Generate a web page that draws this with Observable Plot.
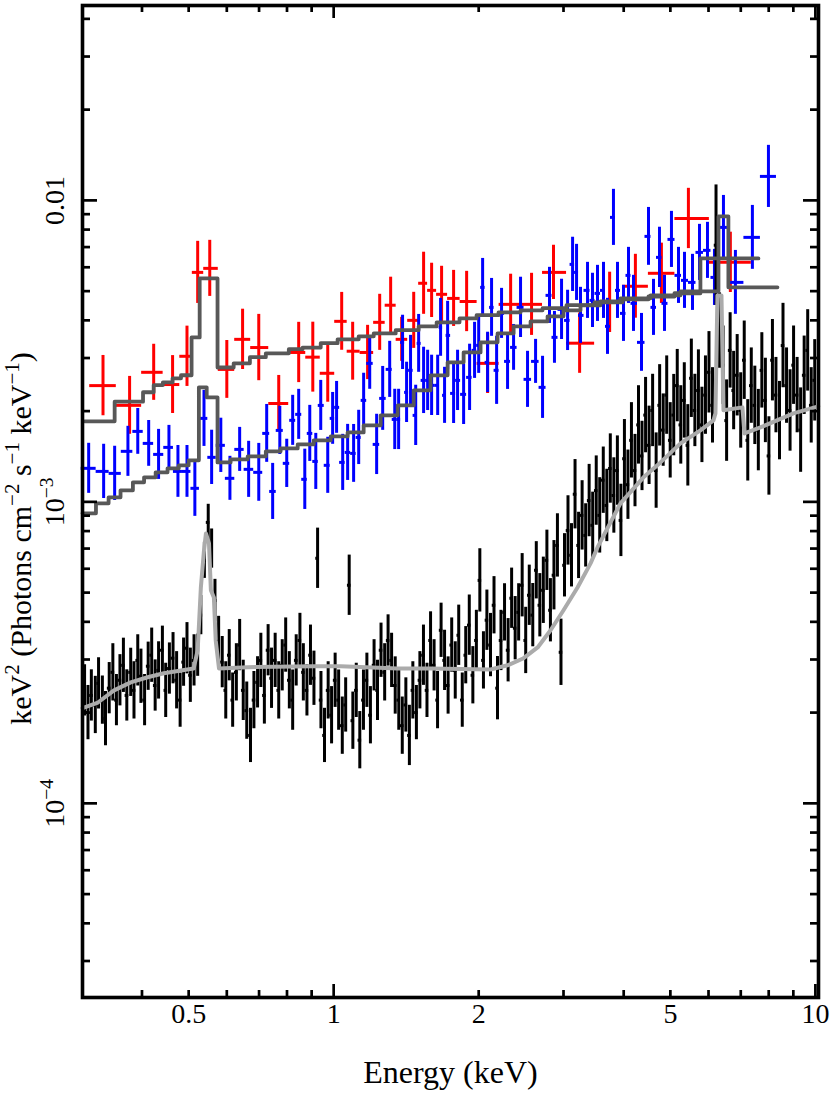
<!DOCTYPE html>
<html><head><meta charset="utf-8">
<script src="https://cdn.jsdelivr.net/npm/d3@7"></script>
<script src="https://cdn.jsdelivr.net/npm/@observablehq/plot@0.6"></script>
<style>html,body{margin:0;padding:0;background:#fff}</style>
</head><body><div id="chart"></div>
<script>
// ---- Red data (flux in 1e-3 units, errors in dex) ----
const redE = [0.332,0.377,0.423,0.463,0.496,0.522,0.553,0.600,0.647,0.699,0.769,0.846,0.905,0.972,1.039,1.095,1.176,1.246,1.313,1.384,1.466,1.537,1.597,1.675,1.774,1.888,2.087,2.33,2.575,2.86,3.24,3.74,4.23,4.79,5.45,6.66];
const redF = [2.43,2.09,2.69,2.45,3.04,5.77,5.95,2.75,3.46,3.25,2.12,3.13,3.02,2.67,3.97,3.16,3.13,3.94,4.49,3.46,4.00,5.31,5.03,4.88,4.73,4.62,2.88,4.52,4.52,5.77,3.36,4.59,5.19,5.73,8.71,6.23];
const redErr = [0.100,0.096,0.093,0.096,0.100,0.103,0.093,0.096,0.100,0.110,0.093,0.100,0.116,0.096,0.096,0.096,0.090,0.093,0.093,0.073,0.093,0.103,0.090,0.093,0.093,0.100,0.100,0.100,0.103,0.090,0.100,0.100,0.106,0.100,0.100,0.100];

// ---- Blue data (flux in 1e-3 units, errors in dex) ----
const blueE = [0.310,0.333,0.351,0.374,0.392,0.413,0.433,0.455,0.475,0.496,
0.515,0.538,0.558,0.583,0.609,0.638,0.666,0.699,0.726,0.747,
0.773,0.799,0.822,0.846,0.871,0.892,0.918,0.940,0.972,0.995,
1.014,1.044,1.069,1.100,1.127,1.154,1.188,1.228,1.264,1.307,
1.339,1.364,1.390,1.417,1.444,1.480,1.501,1.537,1.567,1.597,
1.644,1.667,1.699,1.724,1.774,1.808,1.861,1.915,1.961,2.000,
2.038,2.087,2.127,2.179,2.231,2.296,2.363,2.443,2.526,2.625,
2.714,2.806,2.873,2.972,3.059,3.133,3.193,3.254,3.365,3.446,
3.529,3.632,3.702,3.809,3.883,3.996,4.093,4.192,4.355,4.503,
4.612,4.746,4.861,5.026,5.198,5.349,5.557,5.746,5.970,6.173,
6.444,6.823,7.400,7.990];
const blueF = [1.292,1.262,1.243,1.471,1.713,1.563,1.437,1.516,1.262,1.262,
1.109,1.892,1.405,1.540,1.197,1.493,1.282,1.253,1.687,1.083,
1.726,1.342,1.864,1.951,1.188,1.687,1.362,2.089,1.322,1.892,
2.058,1.352,1.459,1.448,1.636,2.171,2.880,1.551,2.204,2.751,
1.877,1.877,3.381,2.308,2.731,1.936,3.355,2.529,2.529,2.435,
2.435,3.792,2.256,3.566,2.290,2.529,2.273,2.588,3.181,3.305,
5.146,2.902,4.417,2.731,4.219,2.924,3.254,4.417,2.549,2.924,
2.398,4.841,3.513,4.350,3.999,6.134,5.770,4.155,5.029,4.659,
4.915,5.029,3.821,8.783,5.029,4.219,5.639,4.554,3.381,7.596,
4.417,6.471,4.554,7.423,5.639,5.429,5.346,6.722,6.827,5.553,
8.136,5.346,7.539,12.01];
const blueErr = [.083,.090,.090,.083,.076,.076,.083,.073,.086,.086,
.093,.093,.090,.090,.073,.073,.093,.096,.096,.093,
.080,.080,.083,.083,.100,.093,.093,.083,.093,.086,
.086,.093,.093,.096,.090,.090,.086,.100,.106,.093,
.100,.100,.090,.100,.116,.100,.096,.110,.100,.100,
.100,.096,.093,.113,.100,.100,.100,.110,.093,.093,
.096,.100,.096,.113,.083,.093,.076,.100,.093,.073,
.103,.093,.086,.100,.100,.090,.093,.093,.093,.090,
.093,.093,.093,.093,.093,.093,.093,.093,.096,.096,
.093,.100,.093,.093,.093,.093,.093,.093,.093,.093,
.106,.106,.106,.103];

// ---- Black data (flux in 1e-4 units, errors in dex) ----
const blackE = [0.304,0.309,0.314,0.320,0.325,0.331,0.336,0.342,0.348,0.354,
0.360,0.366,0.372,0.379,0.385,0.392,0.398,0.405,0.412,0.419,
0.426,0.433,0.441,0.448,0.456,0.464,0.472,0.480,0.488,0.496,
0.504,0.513,0.522,0.530,0.539,0.549,0.558,0.567,0.577,0.587,
0.597,0.607,0.617,0.628,0.638,0.649,0.660,0.672,0.683,0.695,
0.706,0.718,0.731,0.743,0.756,0.769,0.782,0.795,0.809,0.822,
0.836,0.851,0.865,0.880,0.895,0.910,0.926,0.941,0.957,0.974,
0.990,1.007,1.024,1.042,1.059,1.077,1.096,1.114,1.133,1.153,
1.172,1.192,1.213,1.233,1.254,1.276,1.297,1.319,1.342,1.365,
1.388,1.412,1.436,1.460,1.485,1.510,1.536,1.562,1.589,1.616,
1.643,1.671,1.699,1.728,1.758,1.788,1.818,1.849,1.880,1.912,
1.945,1.978,2.011,2.046,2.080,2.116,2.152,2.188,2.225,2.263,
2.302,2.341,2.381,2.421,2.462,2.504,2.547,2.590,2.634,2.679,
2.724,2.771,2.818,2.866,2.914,2.964,3.014,3.065,3.117,3.170,
3.224,3.279,3.335,3.391,3.449,3.508,3.567,3.628,3.690,3.752,
3.816,3.881,3.947,4.014,4.082,4.151,4.222,4.293,4.366,4.441,
4.516,4.593,4.671,4.750,4.831,4.913,4.996,5.081,5.167,5.255,
5.344,5.435,5.527,5.621,5.717,5.814,5.913,6.013,6.115,6.219,
6.325,6.432,6.542,6.653,6.766,6.881,6.998,7.117,7.238,7.361,
7.486,7.613,7.742,7.874,8.008,8.144,8.282,8.423,8.566,8.712,
8.860,9.010,9.164,9.319,9.478,9.639,9.803,9.969];
const blackF = [2.37,2.00,2.28,2.12,2.50,2.20,1.91,2.41,2.72,2.20,
2.56,2.87,2.28,2.72,2.37,2.98,2.64,2.20,2.85,3.10,
2.46,2.76,3.22,2.37,2.80,3.03,2.56,2.20,2.94,3.27,
2.66,2.98,3.10,4.21,6.40,8.55,7.00,4.71,3.47,2.94,
2.37,3.10,2.20,2.72,3.35,2.37,2.03,1.68,2.20,2.52,
2.98,2.28,3.22,2.60,2.98,2.37,2.87,3.35,2.56,2.20,
2.98,3.47,2.72,2.37,3.10,2.60,6.50,2.20,1.68,2.37,
1.96,2.56,2.20,1.81,2.12,5.29,1.88,2.37,1.62,2.20,
2.56,1.96,2.87,2.37,3.22,2.72,3.47,2.98,2.46,2.20,
1.81,2.12,1.68,2.37,2.00,2.56,3.10,2.37,3.47,2.87,
2.20,3.75,2.98,2.46,3.35,2.76,3.61,2.20,3.10,3.90,
2.66,3.47,5.49,2.98,4.05,3.35,4.54,2.41,3.47,4.30,
3.22,4.79,3.81,4.30,5.29,3.47,4.90,4.21,5.93,4.54,
5.09,6.40,4.37,5.71,7.17,3.17,6.16,8.04,6.65,10.6,
7.17,9.02,7.74,10.1,8.36,10.9,9.02,11.8,9.73,12.9,
10.5,12.7,8.68,13.9,11.4,16.0,12.7,18.0,14.2,19.4,
15.4,20.1,12.7,20.9,17.3,22.6,16.0,19.4,24.3,18.0,
21.7,15.4,25.7,20.1,23.4,18.0,22.6,26.9,20.9,71.0,
37.0,28.4,18.6,31.8,23.4,26.3,20.1,29.5,16.0,24.3,
20.9,17.3,27.3,21.7,14.2,29.5,22.6,18.6,33.0,24.3,
20.1,28.4,22.6,17.3,26.3,31.8,20.9,25.3];
const blackErr = [.085,.09,.085,.095,.085,.08,.09,.085,.095,.085,
.085,.09,.085,.08,.095,.085,.09,.085,.08,.09,
.085,.095,.08,.09,.085,.085,.095,.09,.08,.085,
.09,.085,.07,.065,.06,.06,.065,.07,.08,.085,
.095,.085,.09,.095,.085,.1,.095,.09,.095,.085,
.09,.095,.085,.1,.09,.095,.085,.09,.095,.1,
.085,.09,.095,.085,.1,.09,.1,.095,.09,.095,
.095,.09,.1,.095,.09,.1,.095,.09,.095,.1,
.09,.095,.085,.1,.09,.095,.085,.09,.095,.1,
.095,.09,.1,.095,.09,.095,.1,.09,.095,.085,
.095,.09,.1,.095,.09,.095,.1,.09,.095,.1,
.095,.1,.105,.095,.1,.105,.095,.105,.1,.095,
.105,.1,.105,.095,.105,.11,.1,.105,.095,.105,
.11,.1,.105,.115,.105,.11,.105,.115,.105,.115,
.11,.115,.105,.12,.11,.115,.125,.11,.12,.115,
.125,.115,.12,.13,.115,.125,.12,.13,.115,.125,
.13,.12,.125,.135,.12,.13,.125,.135,.12,.13,
.125,.135,.13,.12,.135,.125,.13,.135,.125,.2,
.125,.13,.135,.125,.13,.135,.125,.13,.135,.125,
.13,.135,.125,.14,.13,.135,.125,.13,.14,.125,
.135,.13,.125,.14,.13,.135,.125,.135];

// ---- Models ----
// Red-data model: step bins (left edges + final right edge), flux 1e-3
const redModelE = [0.304,0.351,0.402,0.423,0.442,0.463,0.482,0.507,0.527,0.574,0.620,0.670,0.723,0.807,0.862,0.940,1.019,1.127,1.211,1.345,1.501,1.636,1.825,1.980,2.199,2.443,2.714,3.043,3.479,3.978,4.503,5.099,5.772,7.617];
const redModelF = [1.85,2.15,2.31,2.44,2.49,2.57,2.63,3.51,5.51,2.79,2.88,3.02,3.11,3.21,3.25,3.36,3.46,3.54,3.62,3.71,3.82,3.94,4.06,4.16,4.25,4.32,4.39,4.49,4.59,4.70,4.80,4.92,6.42,6.42];
// Blue-data model: step bins, flux 1e-3
const blueModelE = [0.301,0.321,0.341,0.361,0.383,0.404,0.427,0.452,0.477,0.500,0.525,0.545,0.574,0.611,0.663,0.723,0.776,0.842,0.909,0.986,1.069,1.154,1.252,1.358,1.466,1.589,1.724,1.861,2.018,2.189,2.363,2.563,2.780,3.000,3.254,3.580,3.939,4.547,5.248,6.292,6.598,8.342];
const blueModelF = [0.916,0.989,1.035,1.092,1.161,1.206,1.253,1.292,1.322,1.373,2.398,2.222,1.352,1.384,1.415,1.471,1.504,1.551,1.600,1.649,1.700,1.794,1.936,2.089,2.344,2.628,2.902,3.132,3.381,3.621,3.821,3.968,4.124,4.318,4.485,4.624,4.732,4.841,4.992,8.850,5.146,5.146];
// Black-data model: curve, flux 1e-4
const blackModelE = [0.301,0.324,0.350,0.379,0.411,0.444,0.482,0.512,0.522,0.530,0.538,0.543,0.551,0.556,0.564,0.569,0.578,0.663,0.909,1.034,1.358,1.589,2.117,2.296,2.479,2.651,2.820,3.000,3.208,3.414,3.529,3.939,4.397,4.769,5.248,5.772,6.143,6.202,6.261,6.383,6.444,7.056,7.124,7.690,9.001,10.14];
const blackModelF = [2.07,2.16,2.37,2.52,2.62,2.70,2.76,2.80,3.22,5.20,6.90,7.86,7.28,5.09,4.82,3.47,2.80,2.83,2.85,2.85,2.80,2.80,2.78,2.87,3.03,3.29,3.75,4.37,5.20,6.25,7.06,9.89,12.06,13.52,15.63,17.27,18.64,19.66,48.4,48.4,20.12,20.58,16.87,17.66,19.66,20.74];

// ---- Axes ----
const xMajorTicks = [1, 10];
const xMinorTicks = [0.4,0.5,0.6,0.7,0.8,0.9,2,3,4,5,6,7,8,9];
const xTickValues = [0.5, 1, 2, 5, 10];
const xTickLabels = ["0.5", "1", "2", "5", "10"];
const yMajorTicks = [1e-4, 1e-3, 1e-2];
const yMinorTicks = [3e-5,4e-5,5e-5,6e-5,7e-5,8e-5,9e-5,2e-4,3e-4,4e-4,5e-4,6e-4,7e-4,8e-4,9e-4,2e-3,3e-3,4e-3,5e-3,6e-3,7e-3,8e-3,9e-3,0.02,0.03,0.04];
const yTickValues = [1e-4, 1e-3, 1e-2];
const yTickLabels = ["10^{\u22124}", "10^{\u22123}", "0.01"];
const xTitle = "Energy (keV)";
const yTitle = "keV^{2} (Photons cm^{\u22122} s^{\u22121} keV^{\u22121})";

// ---- Build tables ----
function binEdges(E) {
  return E.map((e, i) => {
    const hi = i < E.length - 1 ? Math.sqrt(e * E[i + 1]) : e * e / Math.sqrt(e * E[i - 1]);
    const lo = i > 0 ? Math.sqrt(e * E[i - 1]) : e * e / Math.sqrt(e * E[i + 1]);
    return [lo, hi];
  });
}
function dataTable(E, F, err, unit) {
  const b = binEdges(E);
  return E.map((e, i) => {
    const f = F[i] * unit, d = err[i] ?? 0.09;
    return {e, f, lo: b[i][0], hi: b[i][1], y1: f / 10 ** d, y2: f * 10 ** d};
  });
}
const modelTable = (E, F, unit) => E.map((e, i) => ({e, f: F[i] * unit}));

const red = dataTable(redE, redF, redErr, 1e-3);
const blue = dataTable(blueE, blueF, blueErr, 1e-3);
const black = dataTable(blackE, blackF, blackErr, 1e-4);
const redModel = modelTable(redModelE, redModelF, 1e-3);
const blueModel = modelTable(blueModelE, blueModelF, 1e-3);
const blackModel = modelTable(blackModelE, blackModelF, 1e-4);

const W = 830, H = 1098, mL = 82, mR = 12, mT = 5, mB = 101;
const PW = W - mL - mR, PH = H - mT - mB;
const font = "'Liberation Serif', 'Times New Roman', 'DejaVu Serif', serif";

function crosses(t, color, w) {
  return [
    Plot.ruleX(t, {x: "e", y1: "y1", y2: "y2", stroke: color, strokeWidth: w}),
    Plot.ruleY(t, {y: "f", x1: "lo", x2: "hi", stroke: color, strokeWidth: w})
  ];
}
const txt = {fill: "#000", fontFamily: font};

const chart = Plot.plot({
  width: W, height: H,
  marginLeft: mL, marginRight: mR, marginTop: mT, marginBottom: mB,
  style: {fontFamily: font, fontSize: "28px", background: "#fff", color: "#000", overflow: "visible"},
  x: {type: "log", domain: [0.301, 10.15], axis: null},
  y: {type: "log", domain: [2.27e-5, 0.0443], axis: null},
  marks: [
    ...crosses(red, "#ff0000", 3),
    ...crosses(blue, "#0000ff", 3),
    ...crosses(black, "#000000", 3),
    Plot.line(redModel, {x: "e", y: "f", curve: "step-after", stroke: "#585858", strokeWidth: 3.8}),
    Plot.line(blueModel, {x: "e", y: "f", curve: "step-after", stroke: "#585858", strokeWidth: 3.8}),
    Plot.line(blackModel, {x: "e", y: "f", stroke: "#ababab", strokeWidth: 4}),
    // ticks (inward, all four sides)
    Plot.tickX(xMinorTicks, {x: d => d, insetTop: PH - 7, stroke: "#000", strokeWidth: 2.7}),
    Plot.tickX(xMinorTicks, {x: d => d, insetBottom: PH - 7, stroke: "#000", strokeWidth: 2.7}),
    Plot.tickX(xMajorTicks, {x: d => d, insetTop: PH - 13, stroke: "#000", strokeWidth: 2.7}),
    Plot.tickX(xMajorTicks, {x: d => d, insetBottom: PH - 13, stroke: "#000", strokeWidth: 2.7}),
    Plot.tickY(yMinorTicks, {y: d => d, insetRight: PW - 8, stroke: "#000", strokeWidth: 2.7}),
    Plot.tickY(yMinorTicks, {y: d => d, insetLeft: PW - 8, stroke: "#000", strokeWidth: 2.7}),
    Plot.tickY(yMajorTicks, {y: d => d, insetRight: PW - 15, stroke: "#000", strokeWidth: 2.7}),
    Plot.tickY(yMajorTicks, {y: d => d, insetLeft: PW - 15, stroke: "#000", strokeWidth: 2.7}),
    Plot.frame({stroke: "#000", strokeWidth: 3.6}),
    // tick labels
    Plot.text(xTickValues, {x: d => d, frameAnchor: "bottom", textAnchor: "middle", dy: 25, text: (d, i) => xTickLabels[i], fontSize: 28, ...txt}),
    Plot.text(yTickValues, {y: d => d, frameAnchor: "left", textAnchor: "middle", dx: -27, rotate: -90, text: (d, i) => yTickLabels[i], fontSize: 28, ...txt}),
    // axis titles
    Plot.text([xTitle], {frameAnchor: "bottom", textAnchor: "middle", dy: 85, text: d => d, fontSize: 32, ...txt}),
    Plot.text([yTitle], {frameAnchor: "left", textAnchor: "middle", dx: -61, dy: 37, rotate: -90, text: d => d, fontSize: 30, ...txt})
  ]
});

// Turn ^{...} markup into superscript tspans
chart.querySelectorAll("text").forEach(t => {
  const s = t.textContent;
  if (!s.includes("^{")) return;
  const parts = s.split(/\^\{([^}]*)\}/);
  t.textContent = "";
  const ns = "http://www.w3.org/2000/svg";
  let raised = false;
  parts.forEach((p, k) => {
    if (p === "") return;
    const ts = document.createElementNS(ns, "tspan");
    if (k % 2 === 1) {
      ts.setAttribute("font-size", "70%");
      ts.setAttribute("dy", "-0.6em");
      raised = true;
    } else if (raised) {
      ts.setAttribute("dy", "0.42em");
      raised = false;
    }
    ts.textContent = p;
    t.appendChild(ts);
  });
});

document.getElementById("chart").appendChild(chart);
</script>
</body></html>
